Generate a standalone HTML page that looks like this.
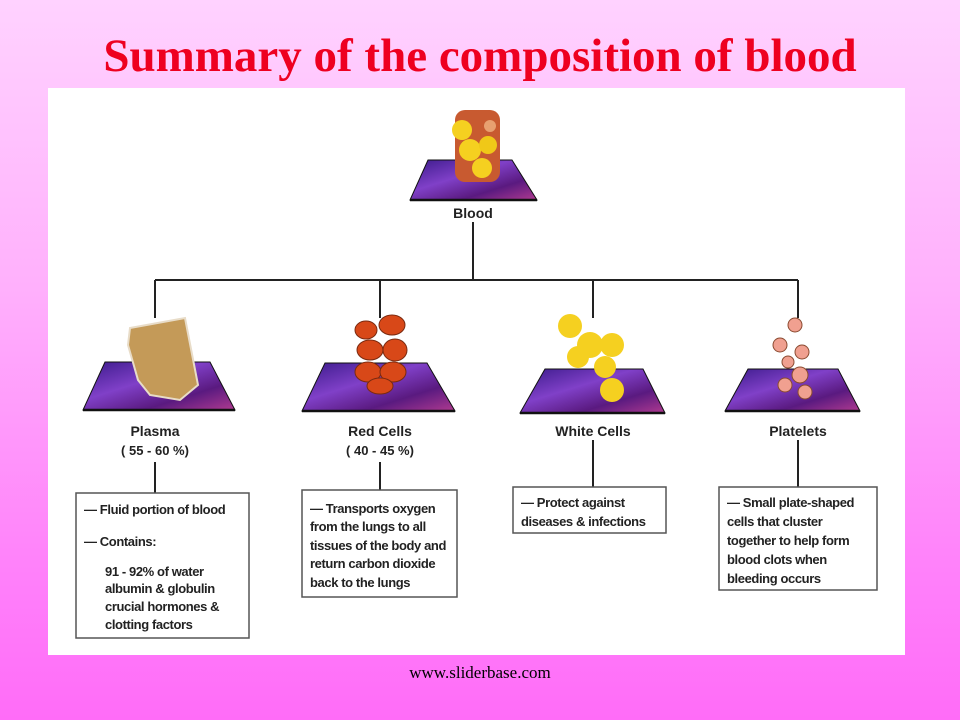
<!DOCTYPE html>
<html><head><meta charset="utf-8">
<style>
html,body{margin:0;padding:0}
body{width:960px;height:720px;overflow:hidden;background:linear-gradient(#ffd2ff 0%,#ffb0fc 40%,#ff80fa 80%,#ff6cf8 100%);position:relative;font-family:"Liberation Sans",sans-serif}
h1{position:absolute;left:0;top:29px;width:960px;margin:0;text-align:center;font:bold 47px "Liberation Serif",serif;color:#ee0020}
.foot{position:absolute;left:0;top:663px;width:960px;text-align:center;font:17px "Liberation Serif",serif;color:#000}
svg{position:absolute;left:0;top:0}
svg text{font-family:"Liberation Sans",sans-serif;font-weight:bold;fill:#222}
.b text{font-size:13px;font-weight:bold;letter-spacing:-0.4px}
</style></head><body>
<h1>Summary of the composition of blood</h1>
<svg width="960" height="720">
<defs>
<linearGradient id="pg" x1="0" y1="0" x2="1" y2="1">
<stop offset="0" stop-color="#3a1a8a"/><stop offset="0.4" stop-color="#8040c8"/><stop offset="0.7" stop-color="#5a1a80"/><stop offset="1" stop-color="#b03a90"/>
</linearGradient>
</defs>
<rect x="48" y="88" width="857" height="567" fill="#fff"/>
<g stroke="#222" stroke-width="2" fill="none">
<path d="M473 222V280M155 280H798M155 280V318M380 280V318M593 280V318M798 280V318"/>
<path d="M155 462V493M380 462V490M593 440V487M798 440V487"/>
</g>
<g stroke="#555" stroke-width="1.5" fill="#fff">
<rect x="76" y="493" width="173" height="145"/>
<rect x="302" y="490" width="155" height="107"/>
<rect x="513" y="487" width="153" height="46"/>
<rect x="719" y="487" width="158" height="103"/>
</g>
<g fill="url(#pg)" stroke="#111" stroke-width="1">
<polygon points="428,160 512,160 537,200 410,200"/>
<polygon points="105,362 210,362 235,410 83,410"/>
<polygon points="325,363 427,363 455,411 302,411"/>
<polygon points="545,369 643,369 665,413 520,413"/>
<polygon points="748,369 838,369 860,411 725,411"/>
</g>
<g stroke="#111" stroke-width="2.5">
<path d="M410 200H537M83 410H235M302 411H455M520 413H665M725 411H860"/>
</g>
<g>
<rect x="455" y="110" width="45" height="72" rx="10" fill="#c85a30"/>
<circle cx="462" cy="130" r="10" fill="#f5d020"/><circle cx="470" cy="150" r="11" fill="#f5d020"/><circle cx="488" cy="145" r="9" fill="#f0c818"/><circle cx="482" cy="168" r="10" fill="#f5d020"/><circle cx="490" cy="126" r="6" fill="#e8a070"/>
</g>
<path d="M130 328 L185 318 L198 385 L180 400 L150 395 L138 380 L128 345 Z" fill="#c49a58" stroke="#e8dcc8" stroke-width="2"/>
<g fill="#d84818" stroke="#7a2a10" stroke-width="1">
<ellipse cx="366" cy="330" rx="11" ry="9"/><ellipse cx="392" cy="325" rx="13" ry="10"/><ellipse cx="370" cy="350" rx="13" ry="10"/><ellipse cx="395" cy="350" rx="12" ry="11"/><ellipse cx="368" cy="372" rx="13" ry="10"/><ellipse cx="393" cy="372" rx="13" ry="10"/><ellipse cx="380" cy="386" rx="13" ry="8"/>
</g>
<g fill="#f5d020">
<circle cx="570" cy="326" r="12"/><circle cx="590" cy="345" r="13"/><circle cx="612" cy="345" r="12"/><circle cx="578" cy="357" r="11"/><circle cx="605" cy="367" r="11"/><circle cx="612" cy="390" r="12"/>
</g>
<g fill="#f0a090" stroke="#8a4a30" stroke-width="1">
<circle cx="795" cy="325" r="7"/><circle cx="780" cy="345" r="7"/><circle cx="802" cy="352" r="7"/><circle cx="788" cy="362" r="6"/><circle cx="800" cy="375" r="8"/><circle cx="785" cy="385" r="7"/><circle cx="805" cy="392" r="7"/>
</g>
<g font-size="14" text-anchor="middle">
<text x="473" y="218">Blood</text>
<text x="155" y="436">Plasma</text>
<text x="155" y="455" font-size="13">( 55 - 60 %)</text>
<text x="380" y="436">Red Cells</text>
<text x="380" y="455" font-size="13">( 40 - 45 %)</text>
<text x="593" y="436">White Cells</text>
<text x="798" y="436">Platelets</text>
</g>
<g class="b">
<text x="84" y="514">—  Fluid portion of blood</text>
<text x="84" y="546">—  Contains:</text>
<text x="105" y="576">91 - 92% of water</text>
<text x="105" y="593">albumin &amp;  globulin</text>
<text x="105" y="611">crucial hormones &amp;</text>
<text x="105" y="629">clotting factors</text>
<text x="310" y="513">— Transports oxygen</text>
<text x="310" y="531">from the lungs to all</text>
<text x="310" y="550">tissues of the body and</text>
<text x="310" y="568">return carbon dioxide</text>
<text x="310" y="587">back to the lungs</text>
<text x="521" y="507">—  Protect against</text>
<text x="521" y="526">diseases &amp; infections</text>
<text x="727" y="507">— Small plate-shaped</text>
<text x="727" y="526">cells that cluster</text>
<text x="727" y="545">together to help form</text>
<text x="727" y="564">blood clots when</text>
<text x="727" y="583">bleeding occurs</text>
</g>
</svg>
<div class="foot">www.sliderbase.com</div>
</body></html>
